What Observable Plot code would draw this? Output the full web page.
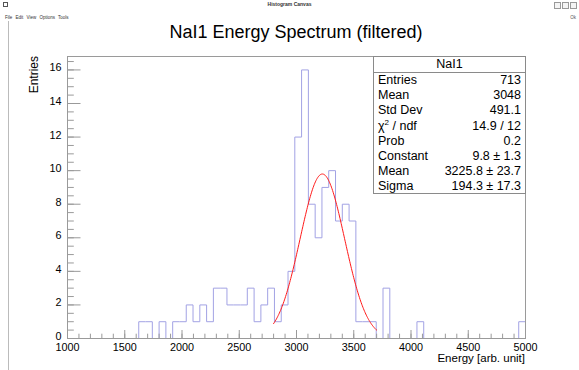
<!DOCTYPE html>
<html>
<head>
<meta charset="utf-8">
<script src="https://cdn.jsdelivr.net/npm/d3@7"></script>
<script src="https://cdn.jsdelivr.net/npm/@observablehq/plot@0.6"></script>
<style>
  body { margin: 0; background: #fff; }
  #canvas { position: relative; width: 579px; height: 370px; overflow: hidden; background: #fff;
            font-family: "Liberation Sans", Arial, Helvetica, sans-serif; color: #000; }
  .abs { position: absolute; white-space: nowrap; }
  #wintitle { left: 0; width: 579px; top: 1px; text-align: center; font-size: 5px; font-weight: bold; color: #333; }
  #menu { left: 5px; top: 15px; font-size: 4.5px; color: #333; word-spacing: 2px; }
  #ok { right: 3px; top: 15px; font-size: 4.5px; color: #555; }
  #winicon { left: 3px; top: 2px; width: 5px; height: 5px; border: 1px solid #555; box-sizing: border-box; }
  .btn { top: 2px; width: 7px; height: 7px; border: 1px solid #999; box-sizing: border-box; background: #f4f4f4; }
  #leftedge { left: 8px; top: 21px; width: 1px; height: 349px; background: #bbb; }
  #title { left: 0; width: 592px; top: 22px; text-align: center; font-size: 18px; }
  #ytitle { left: 34px; top: 56px; font-size: 12px; transform-origin: 0 0; transform: translate(-7px, 0) rotate(-90deg) translate(-100%, 0); }
  #xtitle { right: 54px; top: 352px; font-size: 11.5px; }
  #stats { left: 373px; top: 56px; width: 153px; height: 138px; border: 1px solid #8a8a8a; box-sizing: border-box; background: #fff; font-size: 12.5px; }
  #stats .head { height: 15px; line-height: 15px; text-align: center; border-bottom: 1px solid #8a8a8a; }
  #stats .row { position: relative; height: 15.2px; line-height: 15.2px; padding: 0 4px 0 4px; }
  #stats .row .v { position: absolute; right: 4px; top: 0; }
  #plot { position: absolute; left: 0; top: 0; }
</style>
</head>
<body>
<div id="canvas">
  <div class="abs" id="winicon"></div>
  <div class="abs" id="wintitle">Histogram Canvas</div>
  <div class="abs btn" style="left:554px"></div>
  <div class="abs btn" style="left:562px"></div>
  <div class="abs btn" style="left:570px"></div>
  <div class="abs" id="menu">File Edit View Options Tools</div>
  <div class="abs" id="ok">Ok</div>
  <div class="abs" id="leftedge"></div>
  <div id="plot"></div>
  <div class="abs" id="title">NaI1 Energy Spectrum (filtered)</div>
  <div class="abs" id="ytitle">Entries</div>
  <div class="abs" id="xtitle">Energy [arb. unit]</div>
  <div class="abs" id="stats"></div>
</div>
<script>
// Histogram binning: the displayed range ends on a bin edge at 5000.
const binStart = 1029.63;   // lower edge of the first full bin
const binWidth = 59.26;
// Entries per bin, from binStart upward
const counts = [
  0, 0, 0, 0, 0, 0, 0, 0, 0, 0,
  1, 1, 0, 1, 0, 1, 1, 2, 1, 2,
  1, 3, 3, 2, 2, 2, 3, 1, 2, 3,
  1, 2, 4, 12, 16, 8, 6, 9, 10, 7,
  8, 7, 1, 1, 1, 0, 3, 0, 0, 0,
  0, 1, 0, 0, 0, 0, 0, 0, 0, 0,
  0, 0, 0, 0, 0, 0, 1
];

// Gaussian fit result and fit range
const fitConstant = 9.8;
const fitMean = 3225.8;
const fitSigma = 194.3;
const fitRange = [2800, 3700];

// Axis ticks
const xMajor = [1000, 1500, 2000, 2500, 3000, 3500, 4000, 4500, 5000];
const xMinor = d3.range(1000, 5001, 100);
const yMajor = [0, 2, 4, 6, 8, 10, 12, 14, 16];
const yMinor = d3.range(0, 16.75, 0.5);

// Statistics box contents
const statsTitle = "NaI1";
const statsLabels = ["Entries", "Mean", "Std Dev", "χ<sup style='font-size:8px;line-height:0'>2</sup> / ndf", "Prob", "Constant", "Mean", "Sigma"];
const statsValues = ["713", "3048", "491.1", "14.9 / 12", "0.2", "9.8 ± 1.3", "3225.8 ± 23.7", "194.3 ± 17.3"];

// Step outline of the histogram
const steps = [{x: 1000, y: 0}];
counts.forEach((c, i) => steps.push({x: binStart + i * binWidth, y: c}));
steps.push({x: 5000, y: counts[counts.length - 1]});

// Fit curve sampled over the fit range
const fitPts = d3.range(fitRange[0], fitRange[1] + 0.1, 5).map(x => ({
  x, y: fitConstant * Math.exp(-0.5 * ((x - fitMean) / fitSigma) ** 2)
}));

const axisColor = "#9a9a9a";

const chart = Plot.plot({
  width: 579,
  height: 370,
  marginLeft: 67,
  marginRight: 54,
  marginTop: 56,
  marginBottom: 32,
  style: {fontFamily: "'Liberation Sans', Arial, sans-serif", fontSize: "10.8px", background: "transparent", color: "#000"},
  x: {domain: [1000, 5000]},
  y: {domain: [0, 16.8]},
  marks: [
    Plot.line(steps, {x: "x", y: "y", curve: "step-after", stroke: "#a2a2e4", strokeWidth: 1}),
    Plot.line(fitPts, {x: "x", y: "y", stroke: "#ff1a1a", strokeWidth: 1}),
    Plot.frame({stroke: axisColor}),
    // inward tick marks
    Plot.axisX({ticks: xMajor, tickSize: -8, fill: "none", stroke: axisColor, label: null}),
    Plot.axisX({ticks: xMinor, tickSize: -4.3, fill: "none", stroke: axisColor, label: null}),
    Plot.axisY({ticks: yMajor, tickSize: -13.5, fill: "none", stroke: axisColor, label: null}),
    Plot.axisY({ticks: yMinor, tickSize: -6.8, fill: "none", stroke: axisColor, label: null}),
    // tick labels
    Plot.axisX({ticks: xMajor, tickSize: 0, tickPadding: 5, label: null, tickFormat: d => String(d)}),
    Plot.axisY({ticks: yMajor, tickSize: 0, tickPadding: 6, dy: -2, label: null, tickFormat: d => String(d)})
  ]
});
document.getElementById("plot").appendChild(chart);

// Fill the statistics box
const stats = document.getElementById("stats");
const head = document.createElement("div");
head.className = "head";
head.textContent = statsTitle;
stats.appendChild(head);
statsLabels.forEach((lab, i) => {
  const row = document.createElement("div");
  row.className = "row";
  row.innerHTML = `<span>${lab}</span><span class="v">${statsValues[i]}</span>`;
  stats.appendChild(row);
});
</script>
</body>
</html>
